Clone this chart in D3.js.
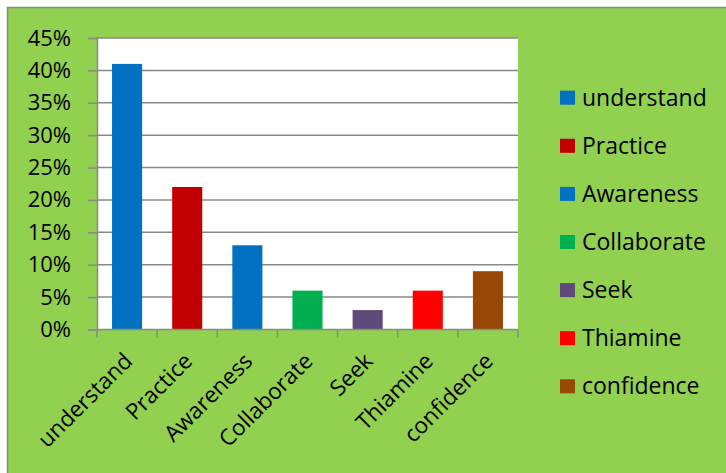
<!DOCTYPE html>
<html>
<head>
<meta charset="utf-8">
<script src="https://cdn.jsdelivr.net/npm/d3@7"></script>
<style>
  body { margin: 0; background: #fff; }
  svg text { font-family: "Open Sans", sans-serif; fill: #000; }
</style>
</head>
<body>
<script>
const WIDTH = 726;
const HEIGHT = 473;
const PLOT = { left: 97, top: 38, right: 518, bottom: 329.5 };

// chart data
var categories = ['understand','Practice','Awareness','Collaborate','Seek','Thiamine','confidence'];
var values = [0.41, 0.22, 0.13, 0.06, 0.03, 0.06, 0.09];
var barColors = ['#0070C0','#C00000','#0070C0','#00B050','#604A7B','#FF0000','#974706'];
var yTicks = [0, 0.05, 0.10, 0.15, 0.20, 0.25, 0.30, 0.35, 0.40, 0.45];

var svg = d3.select('body').append('svg')
	.attr('width', WIDTH)
	.attr('height', HEIGHT);

// green chart background with grey border (cropped on right/bottom)
svg.append('rect')
	.attr('x', 0).attr('y', 0).attr('width', WIDTH).attr('height', HEIGHT)
	.attr('fill', '#fff');
svg.append('rect')
	.attr('x', 7.5).attr('y', 7.5).attr('width', WIDTH + 20).attr('height', HEIGHT + 20)
	.attr('fill', '#92D050')
	.attr('stroke', '#898989').attr('stroke-width', 1.5);

var xScale = d3.scaleBand().domain(categories).range([PLOT.left, PLOT.right]).paddingInner(0.5).paddingOuter(0.25);
var xBand = d3.scaleBand().domain(categories).range([PLOT.left, PLOT.right]);
var yScale = d3.scaleLinear().domain([0, 0.45]).range([PLOT.bottom, PLOT.top]);

svg.append('rect')
	.attr('x', PLOT.left).attr('y', PLOT.top)
	.attr('width', PLOT.right - PLOT.left).attr('height', PLOT.bottom - PLOT.top)
	.attr('fill', '#fff');

// gridlines
svg.append('g').selectAll('line')
	.data(yTicks.slice(1))
	.enter().append('line')
	.attr('x1', PLOT.left).attr('x2', PLOT.right)
	.attr('y1', function(d){ return yScale(d); })
	.attr('y2', function(d){ return yScale(d); })
	.attr('stroke', '#898989').attr('stroke-width', 1.5);

// y axis
var yAxis = d3.axisLeft(yScale).tickValues(yTicks).tickSize(9).tickPadding(17)
	.tickFormat(function(d){ return Math.round(d*100) + '%'; });
var gy = svg.append('g').attr('transform', 'translate(' + PLOT.left + ',0)').call(yAxis);
gy.select('.domain').attr('stroke', '#898989').attr('stroke-width', 1.5);
gy.selectAll('.tick line').attr('stroke', '#898989').attr('stroke-width', 1.5);
gy.selectAll('.tick text').attr('font-size', 22).attr('font-family', '"Open Sans", sans-serif');

// bars
svg.append('g').selectAll('rect')
	.data(values)
	.enter().append('rect')
	.attr('x', function(d,i){ return xScale(categories[i]); })
	.attr('y', function(d){ return yScale(d); })
	.attr('width', xScale.bandwidth())
	.attr('height', function(d){ return PLOT.bottom - yScale(d); })
	.attr('fill', function(d,i){ return barColors[i]; });

// x axis line and boundary ticks
svg.append('line')
	.attr('x1', PLOT.left).attr('x2', PLOT.right)
	.attr('y1', PLOT.bottom).attr('y2', PLOT.bottom)
	.attr('stroke', '#898989').attr('stroke-width', 1.5);
var bounds = categories.map(function(c){ return xBand(c); }).concat([PLOT.right]);
svg.append('g').selectAll('line')
	.data(bounds)
	.enter().append('line')
	.attr('x1', function(d){ return d; }).attr('x2', function(d){ return d; })
	.attr('y1', PLOT.bottom).attr('y2', PLOT.bottom + 8)
	.attr('stroke', '#898989').attr('stroke-width', 1.5);

// rotated category labels
svg.append('g').selectAll('text')
	.data(categories)
	.enter().append('text')
	.attr('transform', function(d){
		return 'translate(' + (xBand(d) + xBand.bandwidth()/2 + 1) + ',357) rotate(-45)';
	})
	.attr('text-anchor', 'end')
	.attr('dy', '0.35em')
	.attr('font-size', 22.5)
	.text(function(d){ return d; });

// legend
var legend = svg.append('g').selectAll('g')
	.data(categories)
	.enter().append('g')
	.attr('transform', function(d,i){ return 'translate(560,' + (97.7 + i*48.1) + ')'; });
legend.append('rect')
	.attr('x', 0).attr('y', -7).attr('width', 15).attr('height', 14)
	.attr('fill', function(d,i){ return barColors[i]; });
legend.append('text')
	.attr('x', 22).attr('dy', '0.35em')
	.attr('font-size', 23)
	.text(function(d){ return d; });
</script>
</body>
</html>
